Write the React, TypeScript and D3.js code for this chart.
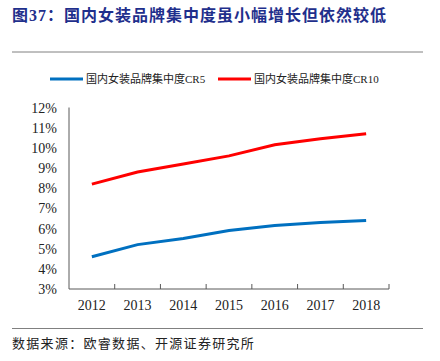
import React from 'react';
import * as d3 from 'd3';

const years = ['2012', '2013', '2014', '2015', '2016', '2017', '2018'];
const cr5 = [4.6, 5.2, 5.5, 5.9, 6.15, 6.3, 6.4];
const cr10 = [8.2, 8.8, 9.2, 9.6, 10.15, 10.45, 10.7];
const yTicks = [3, 4, 5, 6, 7, 8, 9, 10, 11, 12];

const seriesList = [
  { name: '国内女装品牌集中度CR5', values: cr5, color: '#0070C0' },
  { name: '国内女装品牌集中度CR10', values: cr10, color: '#FF0000' },
];

const W = 440;
const H = 361;
const serif = '"Liberation Serif", "Times New Roman", "Noto Sans CJK SC", serif';
const cjk = '"Liberation Serif", "Noto Sans CJK SC", serif';

export default function App() {
  const margin = { left: 69, right: 51, top: 107.5, bottom: 72 };
  const x = d3.scaleBand().domain(years).range([margin.left, W - margin.right]);
  const y = d3.scaleLinear().domain([3, 12]).range([H - margin.bottom, margin.top]);

  const line = d3
    .line<number>()
    .x((_, i) => (x(years[i]) || 0) + x.bandwidth() / 2)
    .y((d) => y(d));

  const y0 = y(3);

  return (
    <div style={{ position: 'fixed', left: 0, top: 0 }}>
      <svg width={W} height={H} style={{ display: 'block', background: '#fff' }}>
        {/* title */}
        <text x={12} y={21} fontFamily={cjk} fontSize={16} fontWeight="bold" fill="#1F2F8C" letterSpacing={1}>
          图37：国内女装品牌集中度虽小幅增长但依然较低
        </text>
        <line x1={12} x2={423} y1={52} y2={52} stroke="#808080" strokeWidth={1} />

        {/* legend */}
        {seriesList.map((s, i) => {
          const lx = i === 0 ? 50 : 218;
          return (
            <g key={s.name}>
              <line x1={lx} x2={lx + 33} y1={79} y2={79} stroke={s.color} strokeWidth={3} />
              <text x={lx + 36} y={83} fontFamily={cjk} fontSize={11} fill="#222">
                {s.name}
              </text>
            </g>
          );
        })}

        {/* y axis */}
        <line x1={margin.left} x2={margin.left} y1={margin.top} y2={y0} stroke="#595959" strokeWidth={1} />
        {yTicks.map((t) => (
          <text key={t} x={57} y={y(t) + 5} textAnchor="end" fontFamily={serif} fontSize={14} fill="#222">
            {t}%
          </text>
        ))}

        {/* x axis */}
        <line x1={margin.left} x2={W - margin.right} y1={y0} y2={y0} stroke="#595959" strokeWidth={1} />
        {years.map((yr, i) => (
          <line
            key={'t' + yr}
            x1={(x(yr) || 0) + x.bandwidth()}
            x2={(x(yr) || 0) + x.bandwidth()}
            y1={y0}
            y2={y0 - 5}
            stroke="#595959"
            strokeWidth={1}
          />
        ))}
        {years.map((yr) => (
          <text
            key={yr}
            x={(x(yr) || 0) + x.bandwidth() / 2}
            y={310}
            textAnchor="middle"
            fontFamily={serif}
            fontSize={14}
            fill="#222"
          >
            {yr}
          </text>
        ))}

        {/* series */}
        {seriesList.map((s) => (
          <path key={s.name} d={line(s.values) || ''} fill="none" stroke={s.color} strokeWidth={3} />
        ))}

        <line x1={12} x2={423} y1={328.5} y2={328.5} stroke="#808080" strokeWidth={1} />
        <text x={12} y={348} fontFamily={cjk} fontSize={13} fill="#222" letterSpacing={1.3}>
          数据来源：欧睿数据、开源证券研究所
        </text>
      </svg>
    </div>
  );
}
